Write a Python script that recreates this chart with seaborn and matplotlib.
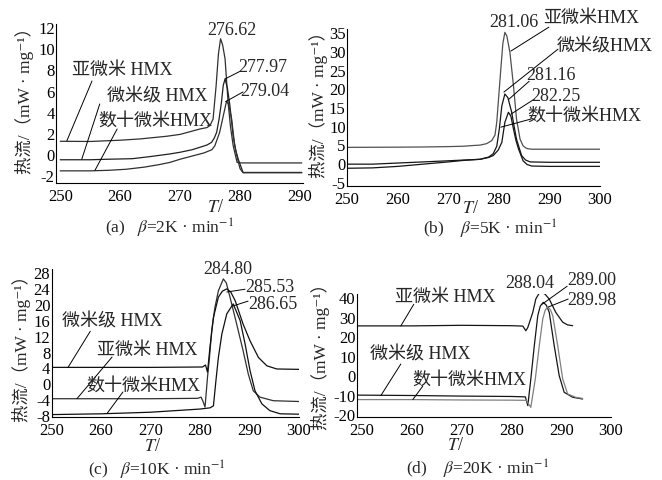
import matplotlib
matplotlib.use("Agg")
import matplotlib.pyplot as plt
import pandas as pd
import seaborn as sns

# sample names (as written in the panels)
sub_name = '亚微米 HMX'
micro_name = '微米级 HMX'
tens_name = '数十微米HMX'
samples = ['sub', 'micro', 'tens']

# ---- (a) beta = 2 K/min ----
a_T_sub = [250, 255, 260, 263.3, 267.7, 270, 273.3, 274.5, 275.0, 275.5, 276.0, 276.4, 276.75,
           277.1, 277.5, 278.0, 278.4, 278.85, 279.5, 280.2, 285, 290.3]
a_q_sub = [1.2, 1.18, 1.3, 1.42, 1.67, 1.85, 2.36, 2.5, 2.7, 3.3, 6.4, 9.5, 10.9,
           10.3, 9.0, 4.9, 2.6, 0.8, -0.8, -0.85, -0.85, -0.85]
a_T_micro = [250, 255, 258, 262, 265, 268.3, 270, 272, 273.3, 274.5, 275.25, 275.7, 276.1, 276.5,
             276.9, 277.2, 277.5, 277.9, 278.3, 278.85, 279.3, 279.7, 280.5, 285, 290.3]
a_q_micro = [-0.55, -0.55, -0.5, -0.45, -0.25, 0.0, 0.16, 0.4, 0.63, 0.85, 1.1, 1.5, 2.05, 3.3,
             4.9, 6.5, 7.1, 6.2, 4.6, 1.7, 0.3, -0.5, -1.75, -1.75, -1.75]
a_T_tens = [250, 255, 258, 261, 264, 266.6, 268.3, 270, 272, 274, 275.3, 275.8, 276.6, 277.2,
            277.75, 278.1, 278.6, 279.1, 279.6, 280.0, 280.5, 285, 290.3]
a_q_tens = [-1.6, -1.6, -1.55, -1.45, -1.25, -1.0, -0.8, -0.5, -0.2, 0.1, 0.4, 0.78, 2.05, 3.6,
            5.0, 4.7, 3.3, 0.8, -0.5, -1.4, -1.78, -1.78, -1.78]
a_peaks = ['276.62', '277.97', '279.04']

# ---- (b) beta = 5 K/min ----
b_T_sub = [250, 260, 265, 270, 273, 275, 276.3, 277.6, 278.6, 279.25, 279.6, 279.9, 280.4, 280.8,
           281.2, 281.6, 282.2, 282.9, 283.5, 284.2, 284.8, 285.5, 286.5, 290, 300]
b_q_sub = [4.2, 4.25, 4.3, 4.4, 4.5, 4.7, 4.8, 5.2, 6.0, 7.5, 11.0, 16.3, 25.2, 32.0,
           35.0, 34.0, 29.6, 20.7, 11.8, 6.4, 4.6, 3.9, 3.7, 3.7, 3.7]
b_T_micro = [250, 255, 260, 265, 270, 273, 276.3, 278.0, 278.9, 279.6, 280.1, 280.6, 281.2, 281.8,
             282.55, 283.0, 283.5, 284.5, 285.3, 286.2, 290, 300]
b_q_micro = [-0.3, -0.3, 0.0, 0.3, 0.6, 0.8, 1.0, 1.6, 2.5, 4.5, 9.1, 15.3, 18.5, 17.5,
             13.6, 10.0, 6.4, 2.0, 0.8, 0.3, 0.2, 0.2]
b_T_tens = [250, 255, 260, 265, 270, 273, 276.3, 278.0, 278.9, 279.9, 280.6, 281.2, 281.9, 282.4,
            282.9, 283.4, 283.9, 284.8, 285.6, 286.5, 290, 300]
b_q_tens = [-1.4, -1.3, -0.9, -0.3, 0.3, 0.7, 1.0, 1.5, 2.0, 3.5, 5.55, 10.9, 13.6, 12.5,
            9.1, 6.0, 3.75, 0.6, -0.4, -0.8, -0.9, -0.9]
b_peaks = ['281.06', '281.16', '282.25']

# ---- (c) beta = 10 K/min ----
c_T_sub = [250, 260, 270, 279.5, 280.2, 280.6, 281.0, 281.5, 281.9, 282.35, 283.0, 283.7, 284.7,
           285.3, 286.05, 287.4, 288.7, 289.75, 290.75, 292.1, 294.8, 300]
c_q_sub = [-3.9, -3.9, -3.9, -3.8, -3.5, -4.6, -6.0, 1.5, 6.5, 13.25, 19.1, 23.3, 26.3,
           25.3, 21.7, 14.9, 8.2, 2.3, -1.9, -3.5, -4.4, -4.6]
c_T_micro = [250, 260, 270, 280.5, 281.1, 281.5, 282.0, 282.7, 283.7, 284.5, 285.4, 286.2, 287.1,
             288.7, 290.1, 291.8, 293.5, 295.5, 300]
c_q_micro = [4.0, 4.0, 4.0, 4.1, 4.6, 2.8, 9.1, 16.6, 21.7, 23.2, 23.8, 23.0, 20.8,
             14.9, 10.7, 6.5, 4.4, 3.6, 3.5]
c_T_tens = [250, 255, 260, 265, 270, 275, 280, 282.0, 282.7, 283.2, 283.7, 284.4, 285.4, 286.7,
            288.1, 289.1, 290.1, 291.1, 292.5, 294.1, 296.2, 300]
c_q_tens = [-7.9, -7.8, -7.7, -7.5, -7.3, -6.9, -6.5, -6.2, -5.7, 0.6, 6.5, 12.4, 17.5, 20.0,
            15.8, 9.9, 3.2, -1.9, -5.2, -6.9, -7.7, -7.8]
c_peaks = ['284.80', '285.53', '286.65']

# ---- (d) beta = 20 K/min ----
d_T_sub = [249.2, 260, 270, 280, 282.3, 282.9, 283.3, 284.3, 284.9, 285.5, 286.1, 286.8, 287.6,
           288.9, 290.3, 291.3, 292.3]
d_q_sub = [25.3, 25.3, 25.6, 25.4, 25.2, 22.8, 24.5, 32.3, 39.1, 41.8, 42.6, 41.5, 39.1,
           32.3, 27.2, 25.8, 25.4]
d_T_micro = [249.2, 260, 270, 280, 282.8, 283.3, 283.9, 284.6, 285.3, 285.8, 286.4, 287.0, 287.6,
             288.6, 289.6, 290.6, 292.3, 294.3]
d_q_micro = [-10.3, -10.5, -10.8, -11.0, -11.2, -15.7, -2.0, 15.1, 30.6, 35.5, 37.4, 36.0, 32.3,
             15.1, -0.3, -8.85, -11.4, -12.3]
d_T_tens = [249.2, 260, 270, 280, 283.0, 283.9, 284.8, 285.6, 286.3, 286.8, 287.3, 287.8, 288.3,
            289.3, 290.3, 291.3, 292.9, 294.3]
d_q_tens = [-12.6, -12.6, -12.8, -12.9, -13.0, -16.6, -2.0, 15.1, 28.9, 33.5, 34.9, 33.8, 30.6,
            15.1, -2.0, -9.7, -11.4, -12.0]
d_peaks = ['288.04', '289.00', '289.98']

y_label = '热流/（mW · mg⁻¹）'
captions = [r'(a)   $\beta$=2K · min$^{-1}$', r'(b)    $\beta$=5K · min$^{-1}$',
            r'(c)   $\beta$=10K · min$^{-1}$', r'(d)    $\beta$=20K · min$^{-1}$']


def make_df(T_lists, q_lists):
    frames = []
    for name, T, q in zip(samples, T_lists, q_lists):
        frames.append(pd.DataFrame({'T': T, 'q': q, 'sample': name}))
    return pd.concat(frames, ignore_index=True)


sns.set_theme(style="white")
plt.rcParams['font.family'] = ['Liberation Serif', 'Noto Sans CJK SC', 'DejaVu Serif']
plt.rcParams['mathtext.fontset'] = 'stix'
plt.rcParams['axes.unicode_minus'] = False

W, H = 662, 481
fig = plt.figure(figsize=(W / 100, H / 100), dpi=100)


def px_axes(l, t, r, b):
    return fig.add_axes([l / W, 1 - b / H, (r - l) / W, (b - t) / H])


def style_axes(ax, xlim, ylim, xticks, yticks):
    ax.set_xlim(*xlim)
    ax.set_ylim(*ylim)
    ax.set_xticks(xticks)
    ax.set_yticks(yticks)
    ax.set_xlabel('')
    ax.set_ylabel('')
    sns.despine(ax=ax)
    for s in ['left', 'bottom']:
        ax.spines[s].set_color('black')
        ax.spines[s].set_linewidth(0.8)
    ax.tick_params(direction='in', length=2.5, width=0.6, labelsize=12, colors='black')
    ax.tick_params(axis='x', pad=3.5)
    ax.tick_params(axis='y', pad=1)


def label(ax, text, xy, start=None, end=None):
    ax.text(xy[0], xy[1], text, fontsize=13, ha='center', va='center', clip_on=False)
    if start is not None:
        ax.plot([start[0], end[0]], [start[1], end[1]], color='black', lw=0.7, clip_on=False)


def fig_text(x, y, s, **kw):
    fig.text(x / W, 1 - y / H, s, ha='center', va='center', **kw)


panels = [
    (make_df([a_T_sub, a_T_micro, a_T_tens], [a_q_sub, a_q_micro, a_q_tens]),
     {'sub': '#303030', 'micro': '#202020', 'tens': '#303030'}),
    (make_df([b_T_sub, b_T_micro, b_T_tens], [b_q_sub, b_q_micro, b_q_tens]),
     {'sub': '#505050', 'micro': '#151515', 'tens': '#151515'}),
    (make_df([c_T_sub, c_T_micro, c_T_tens], [c_q_sub, c_q_micro, c_q_tens]),
     {'sub': '#303030', 'micro': '#101010', 'tens': '#101010'}),
    (make_df([d_T_sub, d_T_micro, d_T_tens], [d_q_sub, d_q_micro, d_q_tens]),
     {'sub': '#151515', 'micro': '#151515', 'tens': '#808080'}),
]

axes = [px_axes(56, 25, 303, 184), px_axes(347, 30, 600, 186.7),
        px_axes(51.7, 270, 299, 417.7), px_axes(357, 295, 611, 417.7)]

for ax, (df, pal) in zip(axes, panels):
    sns.lineplot(data=df, x='T', y='q', hue='sample', units='sample', estimator=None,
                 sort=False, palette=pal, linewidth=0.9, legend=False, ax=ax)

ax_a, ax_b, ax_c, ax_d = axes
style_axes(ax_a, (249.3, 290.5), (-2.75, 12.3), range(250, 291, 10), range(-2, 13, 2))
style_axes(ax_b, (250, 300), (-6.07, 35.9), range(250, 301, 10), range(-5, 36, 5))
style_axes(ax_c, (250, 300), (-8.43, 28.8), range(250, 301, 10), range(-8, 29, 4))
style_axes(ax_d, (249, 299.8), (-21.4, 41.7), range(250, 301, 10), range(-20, 41, 10))

# panel (a) labels
label(ax_a, a_peaks[0], (278.6, 11.75))
label(ax_a, a_peaks[1], (283.8, 8.25), (280.1, 7.85), (277.5, 7.1))
label(ax_a, a_peaks[2], (284.1, 6.05), (280.5, 5.87), (277.6, 4.95))
label(ax_a, sub_name, (260.3, 8.0), (255.3, 6.9), (251.1, 1.23))
label(ax_a, micro_name, (266.2, 5.5), (256.6, 4.73), (253.6, -0.5))
label(ax_a, tens_name, (265.8, 3.2), (259.5, 2.36), (255.8, -1.55))

# panel (b) labels
label(ax_b, b_peaks[0], (283.0, 38.0))
label(ax_b, sub_name.replace(' ', ''), (298.2, 39.0), (289.9, 36.4), (282.4, 30.0))
label(ax_b, micro_name.replace(' ', ''), (301.0, 31.3), (291.7, 30.5), (281.0, 19.0))
label(ax_b, b_peaks[1], (290.3, 23.8), (286.0, 21.9), (282.0, 17.1))
label(ax_b, b_peaks[2], (291.3, 18.2), (287.0, 17.1), (282.4, 13.1))
label(ax_b, tens_name, (297.0, 12.8), (286.4, 11.8), (280.4, 9.6))

# panel (c) labels
label(ax_c, c_peaks[0], (285.6, 28.8))
label(ax_c, c_peaks[1], (294.1, 24.3), (289.1, 23.7), (285.4, 23.0))
label(ax_c, c_peaks[2], (294.7, 20.2), (289.7, 20.7), (286.7, 19.5))
label(ax_c, micro_name, (262.2, 15.7), (257.8, 13.1), (253.3, 4.0))
label(ax_c, sub_name, (269.3, 8.6), (262.2, 6.6), (255.1, -3.9))
label(ax_c, tens_name, (268.5, -0.5), (264.4, -2.2), (261.2, -7.6))

# panel (d) labels
label(ax_d, d_peaks[0], (283.6, 47.4))
label(ax_d, d_peaks[1], (296.2, 49.4), (291.2, 45.7), (286.2, 36.5))
label(ax_d, d_peaks[2], (296.2, 39.1), (291.4, 39.1), (287.4, 35.0))
label(ax_d, sub_name, (266.8, 40.2), (260.4, 36.4), (257.8, 25.3))
label(ax_d, micro_name, (261.8, 10.9), (257.8, 5.7), (253.8, -10.5))
label(ax_d, tens_name, (271.6, -2.0), (262.2, -5.7), (260.2, -12.6))

# axis titles and captions (figure pixel positions)
for (x, y) in [(24, 97), (318, 100), (21, 345), (320, 352)]:
    fig_text(x, y, y_label, rotation=90, fontsize=12.5)
for (x, y) in [(216, 208), (471, 209), (153, 447), (456, 446)]:
    fig_text(x, y, r'$T$/', fontsize=13)
for (x, y), cap in zip([(170, 228), (490, 229), (157, 470), (478, 469)], captions):
    fig_text(x, y, cap, fontsize=12.5)

fig.savefig('out.png', dpi=100)
